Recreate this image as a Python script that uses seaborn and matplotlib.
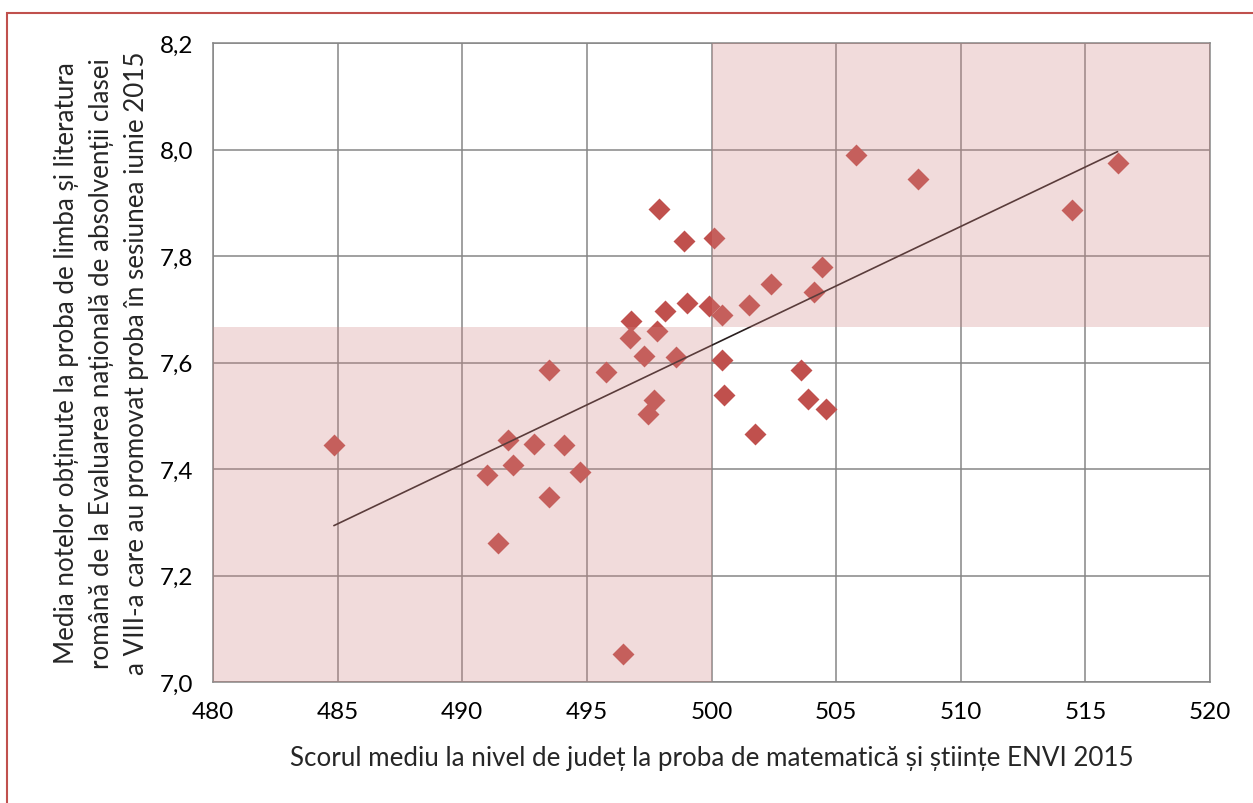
import matplotlib
matplotlib.use("Agg")
import matplotlib.pyplot as plt
import numpy as np
import pandas as pd
import seaborn as sns
from matplotlib.patches import Rectangle

# county averages: math/science score vs. Romanian language grade
math_score = [
    505.79, 497.89, 498.88, 500.11, 504.44, 502.38, 504.12, 501.51, 499.00, 499.90,
    500.44, 498.13, 496.79, 497.81, 496.74, 497.28, 498.57, 500.43, 495.76, 493.49,
    503.60, 500.50, 497.71, 497.47, 503.89, 504.60, 501.74, 491.85, 492.89, 494.08,
    492.02, 490.98, 494.72, 493.47, 484.85, 491.43, 496.46, 508.28, 514.46, 516.29,
]
romanian_grade = [
    7.990, 7.888, 7.829, 7.834, 7.779, 7.747, 7.732, 7.708, 7.712, 7.706,
    7.689, 7.696, 7.677, 7.660, 7.646, 7.612, 7.611, 7.605, 7.582, 7.585,
    7.586, 7.539, 7.530, 7.503, 7.531, 7.513, 7.466, 7.455, 7.447, 7.446,
    7.407, 7.389, 7.394, 7.348, 7.445, 7.261, 7.053, 7.945, 7.886, 7.975,
]

# national reference values splitting the quadrants
math_split = 500
grade_split = 7.667

x_ticks = [480, 485, 490, 495, 500, 505, 510, 515, 520]
y_ticks = [7.0, 7.2, 7.4, 7.6, 7.8, 8.0, 8.2]
y_tick_labels = ["7,0", "7,2", "7,4", "7,6", "7,8", "8,0", "8,2"]

x_label = "Scorul mediu la nivel de județ la proba de matematică și științe ENVI 2015"
y_label = (
    "Media notelor obținute la proba de limba și literatura\n"
    "română de la Evaluarea națională de absolvenții clasei\n"
    "a VIII-a care au promovat proba în sesiunea iunie 2015"
)

sns.set_style("white")
plt.rcParams["font.family"] = ["Lato", "DejaVu Sans"]
plt.rcParams["font.size"] = 18.7

df = pd.DataFrame({"math": math_score, "grade": romanian_grade})

fig = plt.figure(figsize=(12.53, 8.04), dpi=100)
ax = fig.add_axes([213 / 1253, 1 - 683 / 804, 997 / 1253, 639 / 804])

sns.scatterplot(
    data=df, x="math", y="grade", ax=ax, marker="D", s=125,
    color="#C0504D", linewidth=0, zorder=3,
)
sns.regplot(
    data=df, x="math", y="grade", ax=ax, scatter=False, ci=None, truncate=True,
    line_kws={"color": "#2a1f1f", "linewidth": 1.2, "zorder": 4},
)

x_lo, x_hi = x_ticks[0], x_ticks[-1]
y_lo, y_hi = y_ticks[0], y_ticks[-1]
shade = dict(color=(210 / 255, 134 / 255, 131 / 255), alpha=0.29, linewidth=0, zorder=5)
ax.fill_between([x_lo, math_split], y_lo, grade_split, **shade)
ax.fill_between([math_split, x_hi], grade_split, y_hi, **shade)

ax.set_xlim(x_lo, x_hi)
ax.set_ylim(y_lo, y_hi)
ax.set_xticks(x_ticks)
ax.set_yticks(y_ticks)
ax.set_yticklabels(y_tick_labels)
ax.grid(True, color="#868686", linewidth=1.1)
ax.set_axisbelow(True)
for sp in ax.spines.values():
    sp.set_color("#868686")
    sp.set_linewidth(1.1)
ax.tick_params(length=0, pad=14, labelsize=17.5, colors="black")

ax.set_xlabel(x_label, labelpad=16)
ax.set_ylabel(y_label, labelpad=8, linespacing=1.5)

# outer chart border
fig.patches.append(Rectangle(
    (7 / 1253, -0.05), 1.1, 1 - 14 / 804 + 0.05, transform=fig.transFigure,
    fill=False, edgecolor="#C0504D", linewidth=1.5, clip_on=False,
))

fig.savefig("out.png", dpi=100)
